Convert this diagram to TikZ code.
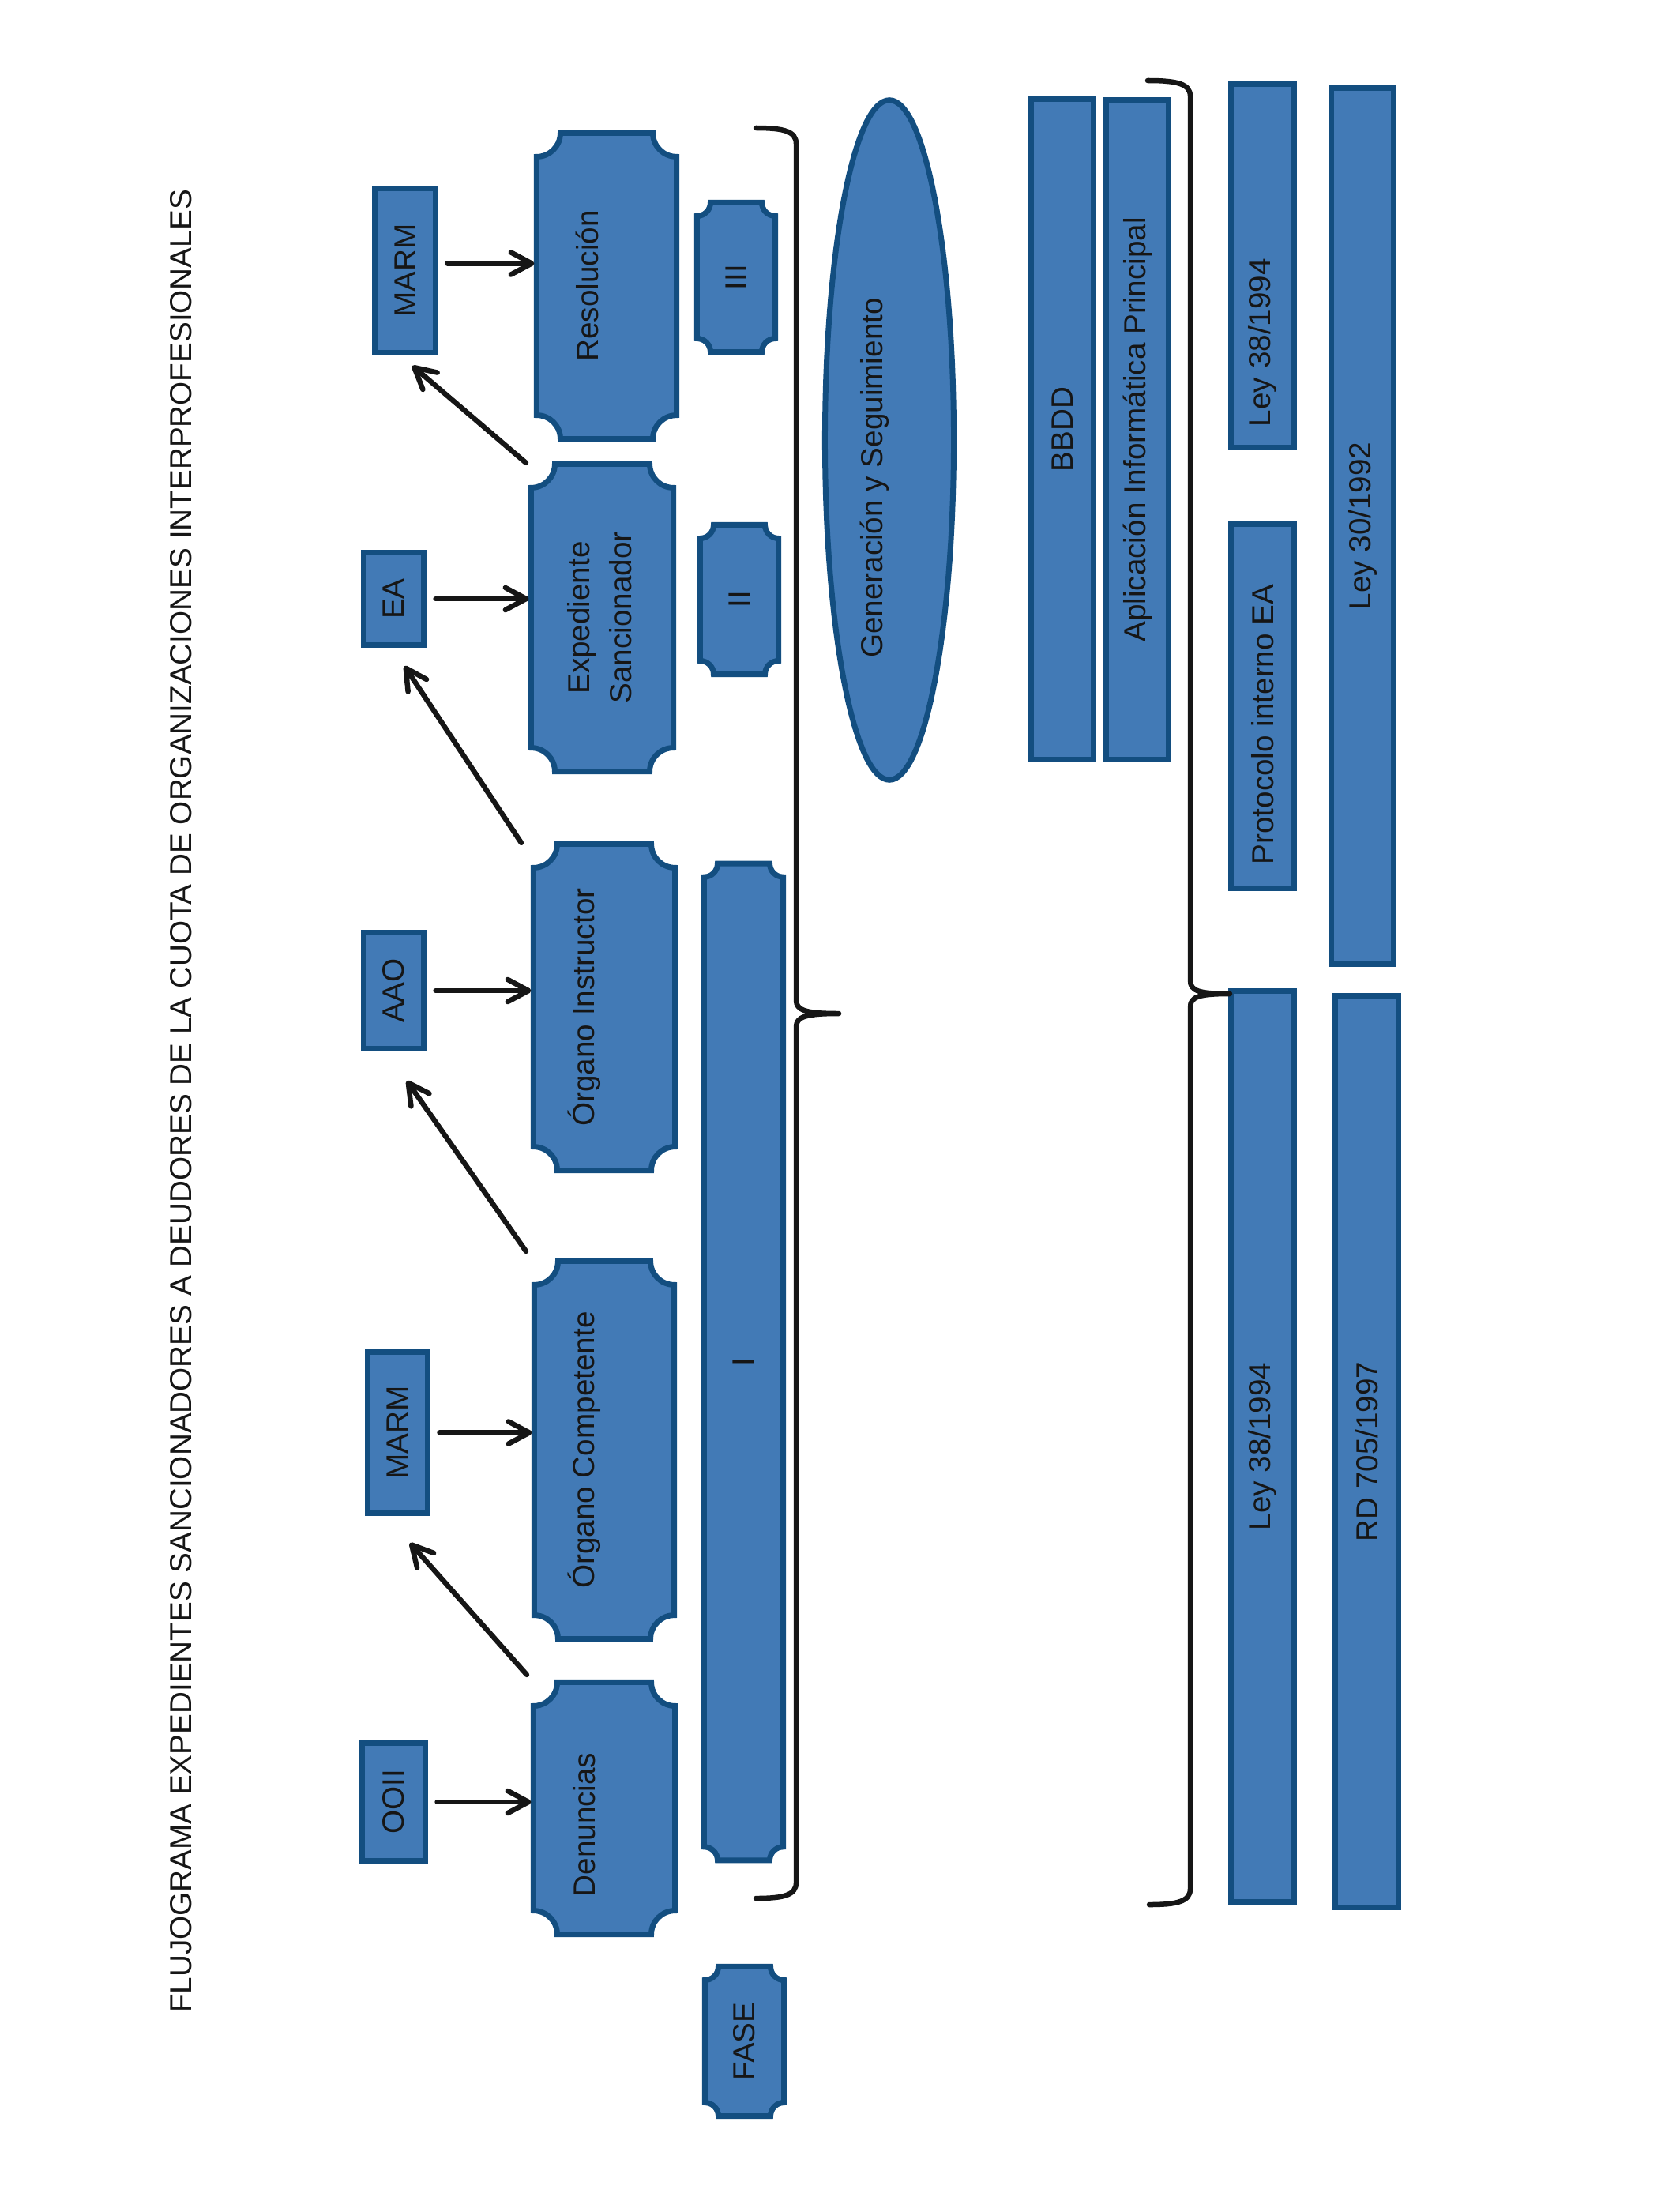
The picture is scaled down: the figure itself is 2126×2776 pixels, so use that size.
\documentclass[tikz,border=0pt]{standalone}
\usepackage{fontspec}
\setmainfont{Liberation Sans}
\usepackage{graphicx}
\usetikzlibrary{arrows.meta,backgrounds,calc,shapes.geometric}
\definecolor{boxfill}{RGB}{66,122,182}
\definecolor{boxedge}{RGB}{19,78,128}
\definecolor{inkblack}{RGB}{22,22,22}
\tikzset{
  txt/.style={font=\fontsize{11}{15}\selectfont, text=inkblack, inner sep=0pt, outer sep=0pt},
  box/.style={txt, rectangle, draw=boxedge, fill=boxfill, line width=0.07cm},
  plaque/.style={txt, rectangle},
  oval/.style={txt, ellipse, draw=boxedge, fill=boxfill, line width=0.07cm},
  dims/.style 2 args={minimum width=#1cm, minimum height=#2cm},
  arrow/.style={-{Straight Barb[length=7.5pt,width=8pt,round]}, line width=0.065cm, draw=inkblack, line cap=round},
  harrow/.style={arrow, shorten <=0.15cm, shorten >=0.03cm},
  brace/.style={line width=0.065cm, draw=inkblack, line cap=round, line join=round},
  notchline/.style={draw=boxedge, fill=boxfill, line width=0.07cm},
}
\newcommand{\vt}[1]{\rotatebox{90}{#1}}
\newcommand{\vtl}[2][0.50cm]{\rotatebox{90}{#2}\hspace*{#1}}
\newcommand{\vtd}[2]{\rotatebox{90}{#2\hspace*{#1}}}
% box with cut-in corners, drawn round a named node
\newcommand{\notched}[2]{%
  \path[notchline] ([xshift=#2]#1.north west) -- ([xshift=-#2]#1.north east)
    arc[start angle=180, end angle=270, radius=#2] -- ([yshift=#2]#1.south east)
    arc[start angle=90, end angle=180, radius=#2] -- ([xshift=#2]#1.south west)
    arc[start angle=0, end angle=90, radius=#2] -- ([yshift=-#2]#1.north west)
    arc[start angle=270, end angle=360, radius=#2] -- cycle;}

\begin{document}
\begin{tikzpicture}[x=0.01cm, y=0.01cm]
  \useasboundingbox (0,0) rectangle (2126,-2776);

  % title
  \node[txt] (title) at (229,-1394) {\vt{FLUJOGRAMA EXPEDIENTES SANCIONADORES A DEUDORES DE LA CUOTA DE ORGANIZACIONES INTERPROFESIONALES}};

  % who acts
  \node[box, dims={0.77}{2.08}] (marmA) at (513,-342.5) {\vt{MARM}};
  \node[box, dims={0.76}{1.17}] (ea) at (498.5,-758) {\vt{EA}};
  \node[box, dims={0.76}{1.47}] (aao) at (498.5,-1254) {\vt{AAO}};
  \node[box, dims={0.76}{2.04}] (marmB) at (503.5,-1813.5) {\vt{MARM}};
  \node[box, dims={0.80}{1.49}] (ooii) at (498.5,-2281) {\vt{OOII}};

  % steps
  \node[plaque, dims={1.77}{3.87}] (res) at (768,-362) {\vtl{Resolución}};
  \node[plaque, dims={1.80}{3.89}] (exp) at (762.5,-782) {\vt{\begin{tabular}{@{}c@{}}Expediente\\Sancionador\end{tabular}}};
  \node[plaque, dims={1.79}{4.13}] (ins) at (765,-1275) {\vtl{Órgano Instructor}};
  \node[plaque, dims={1.77}{4.78}] (comp) at (765,-1835.5) {\vtl{Órgano Competente}};
  \node[plaque, dims={1.79}{3.19}] (den) at (765,-2289) {\vtd{0.42cm}{Denuncias}\hspace*{0.50cm}};

  % phases
  \node[plaque, dims={0.99}{1.89}] (fIII) at (932,-351) {\vt{III}};
  \node[plaque, dims={0.99}{1.89}] (fII) at (936,-759) {\vt{II}};
  \node[plaque, dims={1.00}{12.61}] (fI) at (941.5,-1724) {\vt{I}};
  \node[plaque, dims={1.00}{1.89}] (fase) at (942.5,-2584) {\vt{FASE}};

  \begin{scope}[on background layer]
    \foreach \n in {res,exp,ins,comp,den} {\notched{\n}{0.30cm}}
    \foreach \n in {fIII,fII,fI,fase} {\notched{\n}{0.17cm}}
  \end{scope}

  % tools and rules
  \node[oval, dims={1.63}{8.60}] (gen) at (1126,-557) {\vtd{0.96cm}{Generación y Seguimiento}\hspace*{0.38cm}};
  \node[box, dims={0.79}{8.36}] (bbdd) at (1345,-543.5) {\vt{BBDD}};
  \node[box, dims={0.79}{8.35}] (app) at (1440,-544) {\vt{Aplicación Informática Principal}};
  \node[box, dims={0.80}{4.60}] (leyA) at (1598.5,-336.5) {\vtd{1.94cm}{Ley 38/1994}};
  \node[box, dims={0.80}{4.61}] (prot) at (1598.5,-894) {\vtd{0.46cm}{Protocolo interno EA}};
  \node[box, dims={0.80}{11.53}] (leyB) at (1598.5,-1831) {\vt{Ley 38/1994}};
  \node[box, dims={0.79}{11.09}] (ley30) at (1725,-666) {\vt{Ley 30/1992}};
  \node[box, dims={0.80}{11.54}] (rd) at (1730.5,-1837.5) {\vt{RD 705/1997}};

  % braces
  \draw[brace] (957,-162) .. controls (992,-162) and (1008,-166) .. (1008,-182) -- (1008,-1266)
    .. controls (1008,-1279) and (1020,-1283) .. (1062,-1283)
    .. controls (1020,-1283) and (1008,-1287) .. (1008,-1300) -- (1008,-2383)
    .. controls (1008,-2399) and (992,-2403) .. (957,-2403);
  \draw[brace] (1453,-102) .. controls (1490,-102) and (1507,-106) .. (1507,-122) -- (1507,-1241)
    .. controls (1507,-1254) and (1517,-1258) .. (1557,-1258)
    .. controls (1517,-1258) and (1507,-1262) .. (1507,-1275) -- (1507,-2391)
    .. controls (1507,-2407) and (1490,-2411) .. (1455,-2411);

  % flow
  \draw[harrow] (ooii.east) -- (ooii.east -| den.west);
  \draw[arrow] ($(den.north west)+(-8.5,9.5)$) -- ($(marmB.south)+(15.5,-37.5)$);
  \draw[harrow] (marmB.east) -- (marmB.east -| comp.west);
  \draw[arrow] ($(comp.north west)+(-10.5,12.5)$) -- ($(aao.south)+(16.5,-40.5)$);
  \draw[harrow] (aao.east) -- (aao.east -| ins.west);
  \draw[arrow] ($(ins.north west)+(-15.5,1.5)$) -- ($(ea.south)+(13.5,-26.5)$);
  \draw[harrow] (ea.east) -- (ea.east -| exp.west);
  \draw[arrow] ($(exp.north west)+(-6.5,1.5)$) -- ($(marmA.south)+(9,-16.5)$);
  \draw[harrow] ($(marmA.east)+(0,9)$) -- ($(marmA.east -| res.west)+(0,9)$);
\end{tikzpicture}
\end{document}
